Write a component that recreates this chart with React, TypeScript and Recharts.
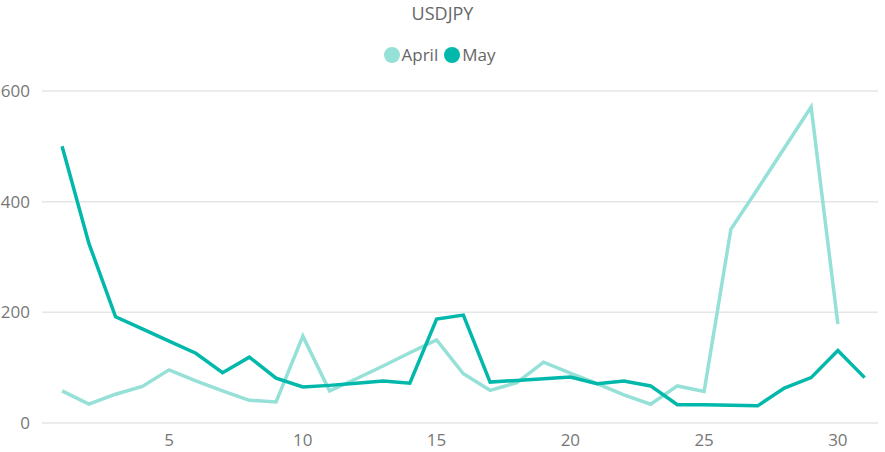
import { LineChart, Line, XAxis, YAxis, CartesianGrid } from "recharts";

const title = "USDJPY";
const days = Array.from({ length: 31 }, (_, i) => i + 1);
const april = [
	58, 34, 52, 66, 96, 76, 58, 41, 38, 157, 58, 80, 103, 127, 150, 89, 59, 73, 110,
	90, 71, 51, 34, 67, 57, 350, 423, 497, 571, 179,
];
const may = [
	500, 325, 192, 170, 148, 126, 91, 119, 81, 65, 68, 72, 76, 72, 188, 195, 74, 77,
	80, 83, 71, 76, 67, 33, 33, 32, 31, 63, 82, 131, 82,
];
const xTicks = [5, 10, 15, 20, 25, 30];
const yTicks = [0, 200, 400, 600];

const colors = { April: "#95e0d7", May: "#01b8aa" };

const data = days.map((d, i) => ({
	day: d,
	April: i < april.length ? april[i] : null,
	May: may[i],
}));

const font = "'Open Sans', 'Noto Sans', sans-serif";

export default function App() {
	return (
		<div style={{ position: "absolute", left: 0, top: 0, width: 885, height: 452, background: "#fff" }}>
			<div
				style={{
					position: "absolute",
					top: 1,
					width: 885,
					textAlign: "center",
					fontFamily: font,
					fontSize: 18,
					color: "#666",
				}}
			>
				{title}
			</div>
			<div
				style={{
					position: "absolute",
					top: 43,
					width: 885,
					display: "flex",
					justifyContent: "center",
					alignItems: "center",
					fontFamily: font,
					fontSize: 17,
					color: "#666",
				}}
			>
				{(["April", "May"] as const).map((k) => (
					<span key={k} style={{ display: "flex", alignItems: "center", marginRight: 6 }}>
						<span
							style={{
								width: 16,
								height: 16,
								borderRadius: 8,
								background: colors[k],
								display: "inline-block",
								marginRight: 2,
							}}
						/>
						{k}
					</span>
				))}
			</div>
			<LineChart
				width={885}
				height={452}
				data={data}
				margin={{ top: 91, right: 7, left: 0, bottom: 0 }}
			>
				<CartesianGrid vertical={false} stroke="#e6e6e6" strokeWidth={1.5} />
				<XAxis
					dataKey="day"
					type="number"
					domain={[0.25, 31.5]}
					ticks={xTicks}
					axisLine={false}
					tickLine={false}
					tickMargin={5}
					height={29}
					tick={{ fill: "#777", fontSize: 17, fontFamily: font }}
				/>
				<YAxis
					domain={[0, 600]}
					ticks={yTicks}
					width={42}
					axisLine={false}
					tickLine={false}
					tickMargin={6}
					tick={{ fill: "#777", fontSize: 17, fontFamily: font }}
				/>
				<Line
					dataKey="April"
					stroke={colors.April}
					strokeWidth={3.5}
					dot={false}
					isAnimationActive={false}
					connectNulls={false}
				/>
				<Line
					dataKey="May"
					stroke={colors.May}
					strokeWidth={3.5}
					dot={false}
					isAnimationActive={false}
				/>
			</LineChart>
		</div>
	);
}
